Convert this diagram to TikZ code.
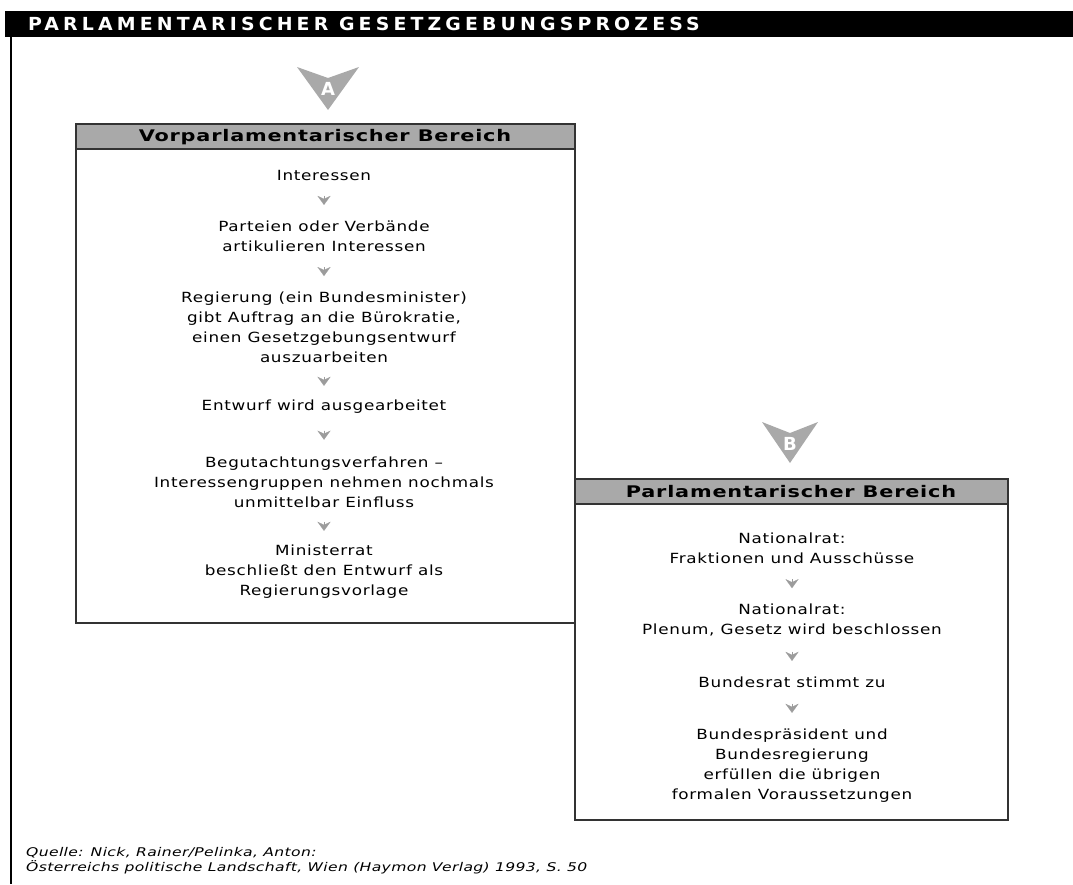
\documentclass[tikz,border=0pt]{standalone}
\usepackage{fontspec}
\setmainfont{DejaVu Sans}
\newfontfamily\stufenfont[FakeStretch=1.2,LetterSpace=5]{DejaVu Sans}
\newfontfamily\kopffont[FakeStretch=1.3,LetterSpace=5]{DejaVu Sans}
\newfontfamily\titelfont[FakeStretch=1.05,LetterSpace=23]{DejaVu Sans}
\newfontfamily\quellfont[FakeStretch=1.3,LetterSpace=3]{DejaVu Sans}
\usepackage{tikz}
\usetikzlibrary{arrows.meta,calc}
\definecolor{grau1}{HTML}{A9A9A9}
\definecolor{grau2}{HTML}{9C9C9C}
\definecolor{rahmen}{HTML}{333333}

\begin{document}
\begin{tikzpicture}[x=1pt, y=-1pt, align=center,
  stufe/.style={inner sep=0pt, font=\stufenfont\fontsize{14}{20}\selectfont},
  kopf/.style={inner sep=0pt, font=\kopffont\bfseries\fontsize{16}{20}\selectfont},
  pfeil/.style={-{Stealth[length=9pt,width=13pt,inset=3pt]}, draw=grau2, fill=grau2, line width=0.1pt},
  buchstabe/.style={inner sep=0pt, text=white, font=\bfseries\fontsize{18}{18}\selectfont}]
\useasboundingbox (0,0) rectangle (1073,884);
\fill (5,11) rectangle (1073,37);
\node[anchor=west, inner sep=0pt, text=white, font=\titelfont\bfseries\fontsize{18}{18}\selectfont] (titel) at (28,24) {PARLAMENTARISCHER GESETZGEBUNGSPROZESS};
\draw[line width=1.5pt] (11,37) -- (11,884);

\fill[grau1] (297,67) -- (328,78) -- (359,67) -- (328,110) -- cycle;
\node[buchstabe] (A) at (328,89) {A};
\fill[grau1] (762,422) -- (790,433) -- (818,422) -- (790,463) -- cycle;
\node[buchstabe] (B) at (790,444) {B};

\filldraw[draw=rahmen, fill=grau1, line width=1.5pt] (76,124) rectangle (575,149);
\draw[rahmen, line width=1.5pt] (76,149) rectangle (575,623);
\node[kopf] (vkopf) at (325,137) {Vorparlamentarischer Bereich};
\filldraw[draw=rahmen, fill=grau1, line width=1.5pt] (575,479) rectangle (1008,504);
\draw[rahmen, line width=1.5pt] (575,504) rectangle (1008,820);
\node[kopf] (pkopf) at (791,492) {Parlamentarischer Bereich};

\node[stufe] (i1) at (324,175) {Interessen};
\node[stufe] (i2) at (324,236) {Parteien oder Verbände\\artikulieren Interessen};
\node[stufe] (i3) at (324,327) {Regierung (ein Bundesminister)\\gibt Auftrag an die Bürokratie,\\einen Gesetzgebungsentwurf\\auszuarbeiten};
\node[stufe] (i4) at (324,407) {Entwurf wird ausgearbeitet};
\node[stufe] (i5) at (324,482) {Begutachtungsverfahren –\\Interessengruppen nehmen nochmals\\unmittelbar Einfluss};
\node[stufe] (i6) at (324,572) {Ministerrat\\beschließt den Entwurf als\\Regierungsvorlage};

\node[stufe] (p1) at (792,548) {Nationalrat:\\Fraktionen und Ausschüsse};
\node[stufe] (p2) at (792,620) {Nationalrat:\\Plenum, Gesetz wird beschlossen};
\node[stufe] (p3) at (792,682) {Bundesrat stimmt zu};
\node[stufe] (p4) at (792,766) {Bundespräsident und\\Bundesregierung\\erfüllen die übrigen\\formalen Voraussetzungen};

\draw[pfeil] ($(i1.south)!.5!(i2.north)+(0,-4.5)$) -- ($(i1.south)!.5!(i2.north)+(0,4.5)$);
\draw[pfeil] ($(i2.south)!.5!(i3.north)+(0,-4.5)$) -- ($(i2.south)!.5!(i3.north)+(0,4.5)$);
\draw[pfeil] ($(i3.south)!.5!(i4.north)+(0,-4.5)$) -- ($(i3.south)!.5!(i4.north)+(0,4.5)$);
\draw[pfeil] ($(i4.south)!.5!(i5.north)+(0,-4.5)$) -- ($(i4.south)!.5!(i5.north)+(0,4.5)$);
\draw[pfeil] ($(i5.south)!.5!(i6.north)+(0,-4.5)$) -- ($(i5.south)!.5!(i6.north)+(0,4.5)$);
\draw[pfeil] ($(p1.south)!.5!(p2.north)+(0,-4.5)$) -- ($(p1.south)!.5!(p2.north)+(0,4.5)$);
\draw[pfeil] ($(p2.south)!.5!(p3.north)+(0,-4.5)$) -- ($(p2.south)!.5!(p3.north)+(0,4.5)$);
\draw[pfeil] ($(p3.south)!.5!(p4.north)+(0,-4.5)$) -- ($(p3.south)!.5!(p4.north)+(0,4.5)$);

\node[anchor=north west, align=left, inner sep=0pt, font=\quellfont\itshape\fontsize{12}{15}\selectfont] (quelle) at (26,847) {Quelle: Nick, Rainer/Pelinka, Anton:\\Österreichs politische Landschaft, Wien (Haymon Verlag) 1993, S. 50};
\end{tikzpicture}
\end{document}
